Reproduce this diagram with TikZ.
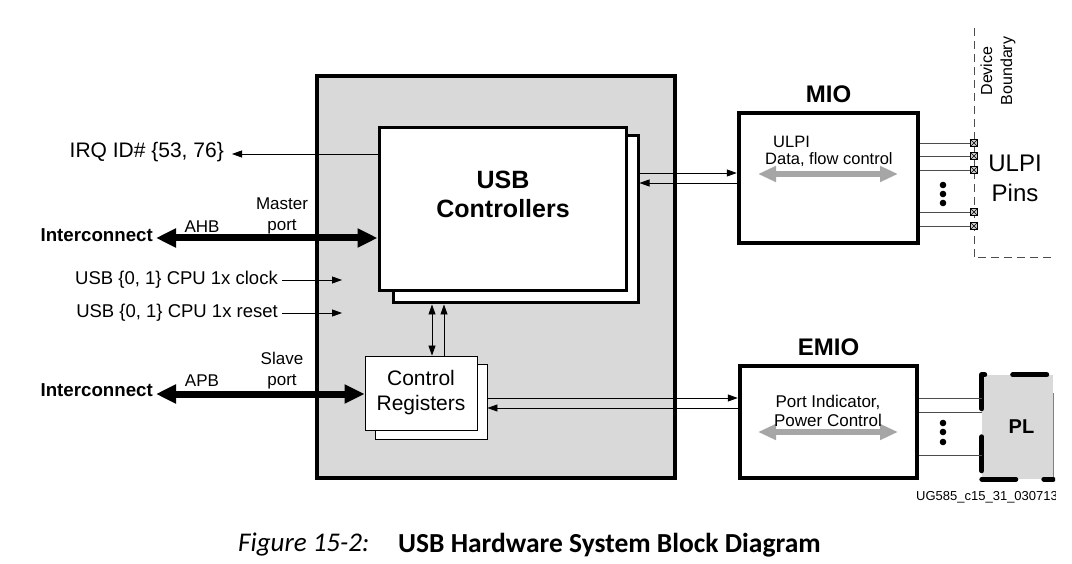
\documentclass[tikz,border=0pt]{standalone}
\usepackage{fontspec}
\setmainfont{Liberation Sans}
\newfontfamily\capfont{Carlito}
\usetikzlibrary{positioning,arrows.meta}
\definecolor{boxgray}{RGB}{217,217,217}
\definecolor{flowgray}{RGB}{166,166,166}
\newcommand\fsz[2]{\fontsize{#1}{#2}\selectfont}

\begin{document}
\begin{tikzpicture}[x=1pt, y=-1pt,
    block/.style={draw, fill=white, line width=3pt, inner sep=0pt},
    regbox/.style={draw, fill=white, line width=0.8pt, inner sep=0pt},
    iobox/.style={draw, fill=white, line width=4.5pt, inner sep=0pt},
    lbl/.style={inner sep=1pt},
    headtxt/.style={inner sep=1pt, font=\bfseries\fsz{24}{29}},
    arr/.style={-{Triangle[length=10pt,width=7pt]}, line width=0.8pt},
    darr/.style={{Triangle[length=10pt,width=7pt]}-{Triangle[length=10pt,width=7pt]}, line width=0.8pt},
    bus/.style={{Triangle[length=20pt,width=18pt]}-{Triangle[length=20pt,width=18pt]}, line width=7pt},
    flow/.style={{Triangle[length=18pt,width=15pt]}-{Triangle[length=18pt,width=15pt]}, line width=6pt, flowgray},
    wire/.style={line width=0.9pt, black!70},
    padbox/.style={draw, fill=gray!40, minimum size=7pt, inner sep=0pt, line width=0.6pt,
      path picture={\draw[line width=0.5pt] (path picture bounding box.north west) -- (path picture bounding box.south east)
        (path picture bounding box.south west) -- (path picture bounding box.north east);}},
    boundary/.style={line width=1pt, black!70, dash pattern=on 8pt off 5pt},
    pldash/.style={line width=5pt, line cap=round, dash pattern=on 34pt off 28pt}]
  \useasboundingbox (0,0) rectangle (1072,564);
  \clip (0,0) rectangle (1055,564);

  \node[draw, fill=boxgray, line width=4pt, minimum width=358pt, minimum height=402pt, inner sep=0pt] (sys) at (496,277) {};
  \node[block, minimum width=245pt, minimum height=167pt] (usbB) at (515.5,219.5) {};
  \node[block, minimum width=247pt, minimum height=163pt] (usb) at (502.5,209.5) {};
  \node[headtxt, align=center, font=\bfseries\fsz{25}{29}] (usbt) at (503,194) {USB\\Controllers};
  \node[regbox, minimum width=112pt, minimum height=75pt] (crB) at (431,401.5) {};
  \node[regbox, minimum width=112pt, minimum height=74pt, align=center, font=\fsz{21}{25}] (cr) at (421,393) {Control\\Registers};

  \node[iobox, minimum width=179pt, minimum height=130pt] (mio) at (828.5,178) {};
  \node[headtxt, above=7pt of mio] (miot) {MIO};
  \draw[flow] (758,174) -- (898,174);
  \node[lbl, anchor=west, font=\fsz{16.5}{19}] (ulpi) at (772,142) {ULPI};
  \node[lbl, anchor=west, font=\fsz{16.5}{19}] (dfc) at (764,160) {Data, flow control};

  \node[iobox, minimum width=177pt, minimum height=112pt] (emio) at (828.5,422) {};
  \node[headtxt, above=7pt of emio] (emiot) {EMIO};
  \draw[flow] (758,432) -- (898,432);
  \node[lbl, align=center, font=\fsz{17}{19}] (pipc) at (828,411) {Port Indicator,\\Power Control};

  \node[fill=boxgray, minimum width=71pt, minimum height=104pt, inner sep=0pt] (pl) at (1017.5,427) {};
  \draw[gray, line width=0.8pt] (pl.east |- 0,393) -- (pl.east |- 0,477);
  \draw[pldash] ([xshift=-6.5pt]pl.north east) -- (pl.north west);
  \draw[pldash] (pl.north west) -- (pl.south west);
  \draw[pldash] (pl.south west) -- (pl.south east);
  \node[lbl, font=\bfseries\fsz{20}{24}] (plt) at ([xshift=4pt]pl.center) {PL};

  \node[lbl, inner xsep=8pt, anchor=east, font=\fsz{21}{24}] (irq) at (232,152) {IRQ ID\# \{53, 76\}};
  \draw[arr] (usb.west |- 0,154) -- (irq.east |- 0,154);

  \node[lbl, inner xsep=3pt, anchor=east, font=\bfseries\fsz{18.7}{21}] (ahbic) at (156,235) {Interconnect};
  \node[lbl, font=\fsz{17}{20}] (ahb) at (202,227) {AHB};
  \node[lbl, align=center, font=\fsz{17}{21}] (mport) at (282,216) {Master\\port};
  \draw[bus] (ahbic.east |- 0,238) -- (usb.west |- 0,238);

  \node[lbl, inner xsep=4pt, anchor=east, font=\fsz{18.5}{22}] (clk) at (282,280) {USB \{0, 1\} CPU 1x clock};
  \node[lbl, inner xsep=4pt, anchor=east, font=\fsz{18.5}{22}] (rst) at (282,313) {USB \{0, 1\} CPU 1x reset};
  \coordinate (clkin) at (342,280);
  \coordinate (rstin) at (342,313);
  \draw[arr] (clk.east) -- (clkin);
  \draw[arr] (rst.east) -- (rstin);

  \node[lbl, inner xsep=3pt, anchor=east, font=\bfseries\fsz{18.7}{21}] (apbic) at (156,390) {Interconnect};
  \node[lbl, font=\fsz{17}{20}] (apb) at (202,381) {APB};
  \node[lbl, align=center, font=\fsz{17}{21}] (sport) at (282,371) {Slave\\port};
  \draw[bus] (apbic.east |- 0,394) -- (cr.west |- 0,394);

  \draw[darr] (432,0 |- usbB.south) -- (432,0 |- cr.north);
  \draw[arr] (444,0 |- cr.north) -- (444,0 |- usbB.south);

  \draw[arr] (usbB.east |- 0,173) -- (mio.west |- 0,173);
  \draw[arr] (mio.west |- 0,183) -- (usbB.east |- 0,183);
  \draw[arr] (crB.east |- 0,398) -- (emio.west |- 0,398);
  \draw[arr] (emio.west |- 0,408) -- (crB.east |- 0,408);

  \coordinate (dbtop) at (974,28);
  \coordinate (dbcorner) at (974,258);
  \draw[boundary] (dbtop) -- (dbcorner) -- (1060,258);
  \node[lbl, rotate=90, align=center, font=\fsz{16}{20}] (db) at (998,71) {Device\\Boundary};

  \foreach \y [count=\i] in {143,156,170,212,226} {
    \node[padbox] (pad\i) at (974,\y) {};
    \draw[wire] (mio.east |- pad\i) -- (pad\i.west);
  }
  \foreach \y in {185,194,203} \fill (943,\y) circle[radius=3.3pt];
  \node[lbl, align=center, font=\fsz{24}{30}] (pins) at (1015,178) {ULPI\\Pins};

  \foreach \y in {398,412,455} \draw[wire] (emio.east |- 0,\y) -- (pl.west |- 0,\y);
  \foreach \y in {423,432,442} \fill (943,\y) circle[radius=3.3pt];

  \node[lbl, anchor=west, font=\fsz{13}{16}] (ug) at (915,497) {UG585\_c15\_31\_030713};

  \node[lbl, anchor=west, font=\capfont\itshape\fsz{27}{32}] (capnum) at (237,545) {Figure 15-2:};
  \node[lbl, anchor=west, font=\capfont\bfseries\fsz{27.5}{32}] (captitle) at (397,545) {USB Hardware System Block Diagram};
\end{tikzpicture}
\end{document}
